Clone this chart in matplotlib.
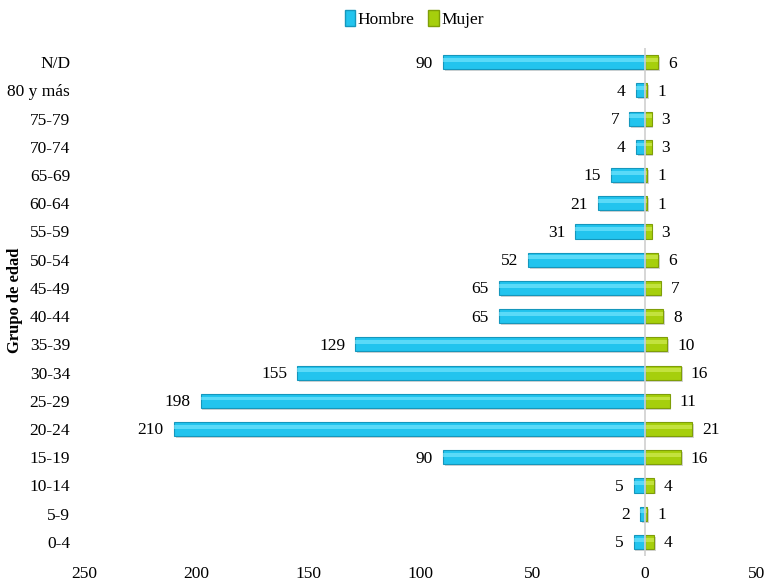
import matplotlib.pyplot as plt
from matplotlib.patches import Patch
from matplotlib.ticker import FuncFormatter

plt.rcParams['font.family'] = ['Liberation Serif', 'DejaVu Serif']

grupos = ["N/D", "80 y más", "75-79", "70-74", "65-69", "60-64", "55-59", "50-54",
          "45-49", "40-44", "35-39", "30-34", "25-29", "20-24", "15-19", "10-14",
          "5-9", "0-4"]
hombre = [90, 4, 7, 4, 15, 21, 31, 52, 65, 65, 129, 155, 198, 210, 90, 5, 2, 5]
mujer = [6, 1, 3, 3, 1, 1, 3, 6, 7, 8, 10, 16, 11, 21, 16, 4, 1, 4]
ticks_x = [-250, -200, -150, -100, -50, 0, 50]

c_h = "#22C4EE"
c_m = "#A6CF0C"

fig = plt.figure(figsize=(7.67, 5.86), dpi=100)
ax = fig.add_axes([84 / 767, 1 - 556 / 586, (757 - 84) / 767, (556 - 48) / 586])

y = list(range(len(grupos)))[::-1]

# sombra
ax.barh([v - 0.07 for v in y], [-h for h in hombre], height=0.5, left=0.8,
        color="#a8a8a8", alpha=0.5, zorder=1)
ax.barh([v - 0.07 for v in y], mujer, height=0.5, left=0.8,
        color="#a8a8a8", alpha=0.5, zorder=1)

ax.barh(y, [-h for h in hombre], height=0.5, color=c_h, edgecolor="#1597BC",
        linewidth=0.8, zorder=3)
ax.barh(y, mujer, height=0.5, color=c_m, edgecolor="#7F9E08",
        linewidth=0.8, zorder=2)
# brillo
ax.barh([v + 0.08 for v in y], [-h for h in hombre], height=0.14, color="#80EAFF",
        alpha=0.6, linewidth=0, zorder=4)
ax.barh([v + 0.08 for v in y], mujer, height=0.14, color="#D8F060",
        alpha=0.6, linewidth=0, zorder=4)

ax.axvline(0, color="#d0d0d0", linewidth=1.2, zorder=5)

for yi, h, m in zip(y, hombre, mujer):
    ax.text(-h - 4.5, yi - 0.05, str(h), ha="right", va="center", fontsize=12.5)
    ax.text(m + 4.5, yi - 0.05, str(m), ha="left", va="center", fontsize=12.5)

ax.set_xlim(-250, 50)
ax.set_ylim(-0.5, 17.5)
ax.set_xticks(ticks_x)
ax.xaxis.set_major_formatter(FuncFormatter(lambda v, p: str(abs(int(v)))))
ax.set_yticks(y)
ax.set_yticklabels(grupos)
ax.tick_params(axis="both", length=0, labelsize=12.5)
ax.tick_params(axis="x", pad=7)
ax.tick_params(axis="y", pad=10)
for s in ax.spines.values():
    s.set_visible(False)

fig.text(15 / 767, 1 - 300 / 586, "Grupo de edad", rotation=90, ha="center",
         va="center", fontsize=12, fontweight="bold")

handles = [Patch(facecolor=c_h, edgecolor="#1597BC", label="Hombre"),
           Patch(facecolor=c_m, edgecolor="#7F9E08", label="Mujer")]
fig.legend(handles=handles, loc="center", bbox_to_anchor=(0.54, 1 - 19 / 586),
           ncol=2, frameon=False, fontsize=12.5, handlelength=0.6,
           handleheight=1.0, handletextpad=0.15, columnspacing=0.8)

fig.savefig("out.png", dpi=100)
